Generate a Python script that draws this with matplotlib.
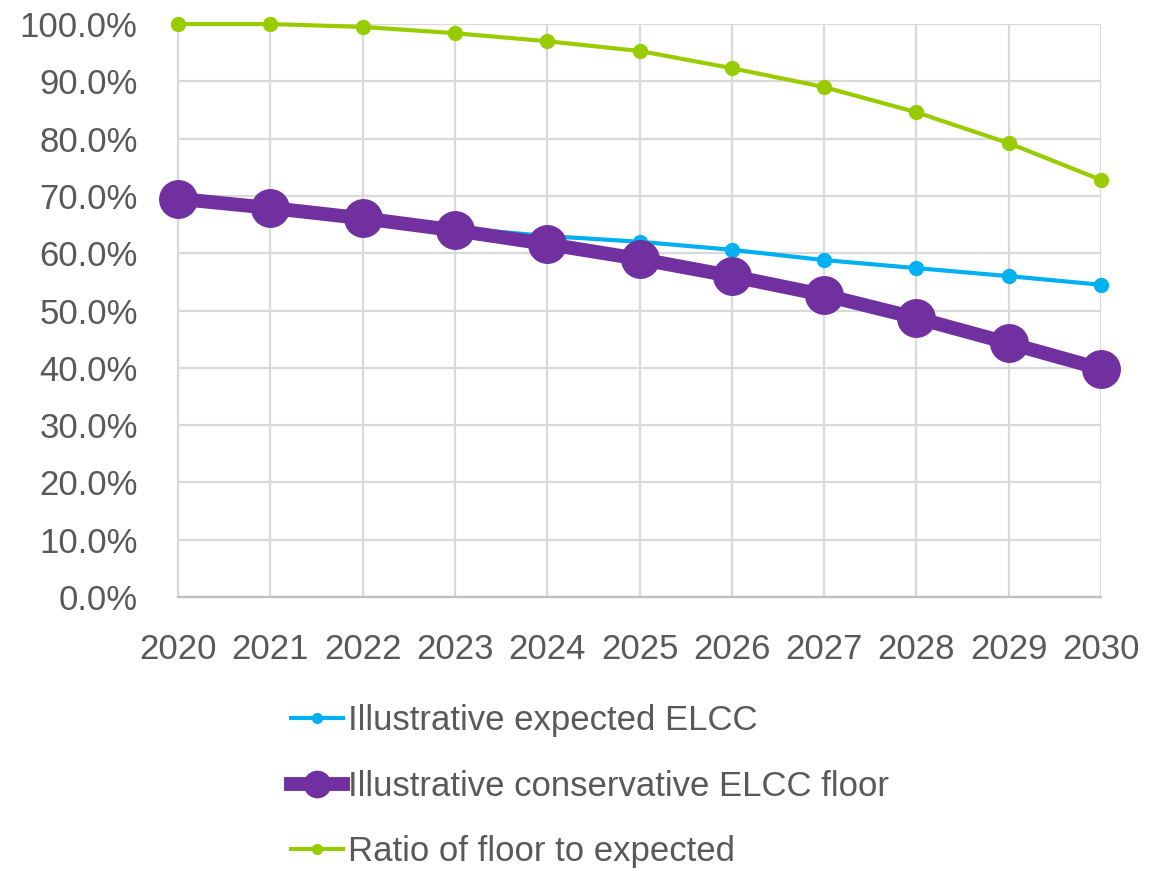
import matplotlib.pyplot as plt
from matplotlib.ticker import PercentFormatter

plt.rcParams['font.family'] = ['Liberation Sans Narrow', 'Liberation Sans', 'DejaVu Sans']

years = [2020, 2021, 2022, 2023, 2024, 2025, 2026, 2027, 2028, 2029, 2030]
expected = [69.5, 67.9, 66.1, 64.4, 63.0, 62.0, 60.6, 58.8, 57.4, 56.0, 54.5]
floor = [69.5, 67.9, 66.1, 64.0, 61.6, 59.0, 56.0, 52.7, 48.7, 44.3, 39.8]
ratio = [100.0, 100.0, 99.5, 98.4, 97.0, 95.3, 92.3, 89.0, 84.6, 79.2, 72.8]

labels = ['Illustrative expected ELCC',
          'Illustrative conservative ELCC floor',
          'Ratio of floor to expected']

txt = '#595959'
grid = '#D9D9D9'

fig = plt.figure(figsize=(11.58, 8.71), dpi=100)
ax = fig.add_axes([0.1537, 0.3146, 0.7971, 0.6578])

l1, = ax.plot(years, expected, color='#00B0F0', lw=3, marker='o', ms=10, zorder=3, clip_on=False)
l2, = ax.plot(years, floor, color='#7030A0', lw=10, marker='o', ms=27, zorder=4, clip_on=False)
l3, = ax.plot(years, ratio, color='#99CC00', lw=3, marker='o', ms=10, zorder=5, clip_on=False)

ax.set_xlim(2020, 2030)
ax.set_ylim(0, 100)
ax.set_xticks(years)
ax.set_yticks(range(0, 101, 10))
ax.yaxis.set_major_formatter(PercentFormatter(decimals=1))

ax.grid(True, color=grid, lw=1.6)
ax.set_axisbelow(True)
for s in ['top', 'right']:
    ax.spines[s].set_visible(False)
ax.spines['left'].set_color(grid)
ax.spines['left'].set_linewidth(1.6)
ax.spines['bottom'].set_color('#BFBFBF')
ax.spines['bottom'].set_linewidth(1.6)

ax.tick_params(length=0, labelsize=25, colors=txt)
ax.tick_params(axis='x', pad=26)
ax.tick_params(axis='y', pad=29)

# legend below the plot, stacked
fig.legend([l1, l2, l3], labels, loc='upper left', bbox_to_anchor=(0.251, 0.1917),
           frameon=False, fontsize=25, labelcolor=txt, handlelength=1.5,
           handletextpad=0.15, labelspacing=0.94, borderpad=0, borderaxespad=0,
           markerscale=0.7)

fig.savefig('out.png', dpi=100)
